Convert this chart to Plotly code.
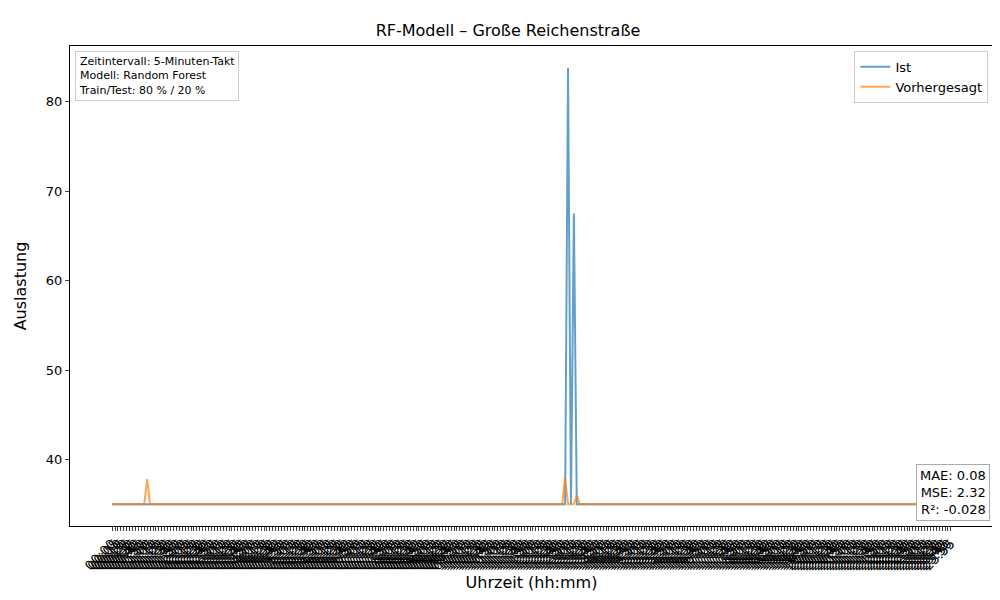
import plotly.graph_objects as go

# 5-Minuten-Takt über einen Tag
zeiten = [f"{h:02d}:{m:02d}" for h in range(24) for m in range(0, 60, 5)]
n = len(zeiten)

ist = [35.0] * n
ist[156] = 83.8
ist[158] = 67.5

vorhergesagt = [35.0] * n
vorhergesagt[12] = 37.8
vorhergesagt[155] = 38.0
vorhergesagt[159] = 36.0

idx = list(range(n))

fig = go.Figure()
fig.add_trace(go.Scatter(x=idx, y=ist, mode="lines", name="Ist",
                         line=dict(color="rgba(31,119,180,0.7)", width=2)))
fig.add_trace(go.Scatter(x=idx, y=vorhergesagt, mode="lines", name="Vorhergesagt",
                         line=dict(color="rgba(255,127,14,0.7)", width=2)))

fig.update_layout(
    width=1000, height=600,
    margin=dict(l=62, r=15, t=38, b=82),
    plot_bgcolor="white", paper_bgcolor="white",
    font=dict(family="DejaVu Sans", size=13, color="black"),
    title=dict(text="RF-Modell – Große Reichenstraße", x=0.5, xanchor="center",
               y=0.962, yanchor="middle", font=dict(size=16)),
    xaxis=dict(title=dict(text="Uhrzeit (hh:mm)", standoff=0),
               tickmode="array", tickvals=idx, ticktext=zeiten, tickangle=-45,
               tickfont=dict(size=13), range=[-14.4, n - 1 + 14.4],
               automargin=False,
               showline=True, linecolor="black", mirror=True, ticks="outside",
               ticklen=4, showgrid=False, zeroline=False),
    yaxis=dict(title=dict(text="Auslastung"), range=[32.56, 86.24],
               tickvals=[40, 50, 60, 70, 80], automargin=False,
               showline=True, linecolor="black", mirror=True, ticks="outside",
               ticklen=4, showgrid=False, zeroline=False),
    legend=dict(x=0.995, y=0.99, xanchor="right", yanchor="top",
                bgcolor="white", bordercolor="#cccccc", borderwidth=1,
                font=dict(size=13)),
    annotations=[
        dict(text="Zeitintervall: 5-Minuten-Takt<br>Modell: Random Forest<br>Train/Test: 80 % / 20 %",
             xref="paper", yref="paper", x=0.005, y=0.99, xanchor="left", yanchor="top",
             showarrow=False, align="left", font=dict(size=11),
             bgcolor="white", bordercolor="#cccccc", borderwidth=1, borderpad=3),
        dict(text="MAE: 0.08<br>MSE: 2.32<br>R²: -0.028",
             xref="paper", yref="paper", x=0.997, y=0.01, xanchor="right", yanchor="bottom",
             showarrow=False, align="right", font=dict(size=13),
             bgcolor="white", bordercolor="#aaaaaa", borderwidth=1, borderpad=3),
    ],
)

fig.write_html("out.html")
